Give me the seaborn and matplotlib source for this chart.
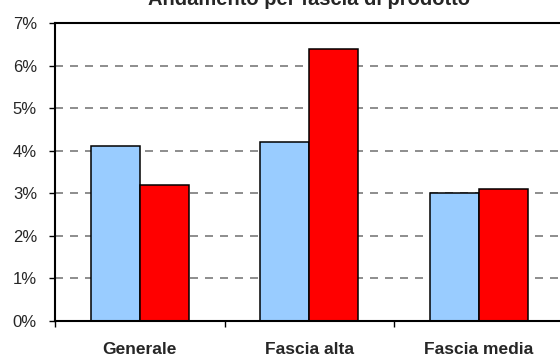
import pandas as pd
import matplotlib.pyplot as plt
import seaborn as sns
from matplotlib.ticker import FuncFormatter

# Data
categorie = ['Generale', 'Fascia alta', 'Fascia media']
serie_1 = [4.1, 4.2, 3.0]
serie_2 = [3.2, 6.4, 3.1]
tick_pct = [0, 1, 2, 3, 4, 5, 6, 7]

df = pd.DataFrame({
    'Categoria': categorie * 2,
    'Valore': serie_1 + serie_2,
    'Serie': ['Serie 1'] * 3 + ['Serie 2'] * 3,
})

sns.set_style("white")
plt.rcParams['font.family'] = ['Liberation Sans', 'DejaVu Sans']

fig = plt.figure(figsize=(5.6, 3.56), dpi=100)
# plot area runs a little past the right edge, as in the cropped original
ax = fig.add_axes([55 / 560, 1 - 321 / 356, (563.5 - 55) / 560, (321 - 23) / 356])

sns.barplot(data=df, x='Categoria', y='Valore', hue='Serie',
            palette=['#99CCFF', '#FF0000'], saturation=1, width=0.58,
            edgecolor='black', linewidth=1.1, legend=False, ax=ax)

ax.set_ylim(0, 7)
ax.set_xlim(-0.5, 2.5)
ax.set_yticks(tick_pct)
ax.yaxis.set_major_formatter(FuncFormatter(lambda v, p: f'{int(v)}%'))
for y in tick_pct[1:-1]:
    ax.axhline(y, color='#7a7a7a', linestyle=(0, (4.8, 4.2)), linewidth=1.2, zorder=0)

ax.set_xticks([0, 1, 2])
ax.set_xticklabels(categorie, fontweight='bold', fontsize=12.5)
ax.set_xticks([-0.5, 0.5, 1.5, 2.5], minor=True)
ax.tick_params(axis='x', which='major', length=0, pad=15)
ax.tick_params(axis='x', which='minor', length=4, width=1, color='black', direction='out', bottom=True)
ax.tick_params(axis='y', length=4, width=1, color='black', direction='out', left=True,
               labelsize=12, pad=9)
ax.set_xlabel('')
ax.set_ylabel('')

for s in ['left', 'bottom', 'top', 'right']:
    ax.spines[s].set_color('black')
    ax.spines[s].set_linewidth(1.5)

# title is cropped at the top edge in the original image
ax.set_title('Andamento per fascia di prodotto', fontweight='bold', fontsize=14.5, pad=13)

fig.savefig('out.png', dpi=100)
